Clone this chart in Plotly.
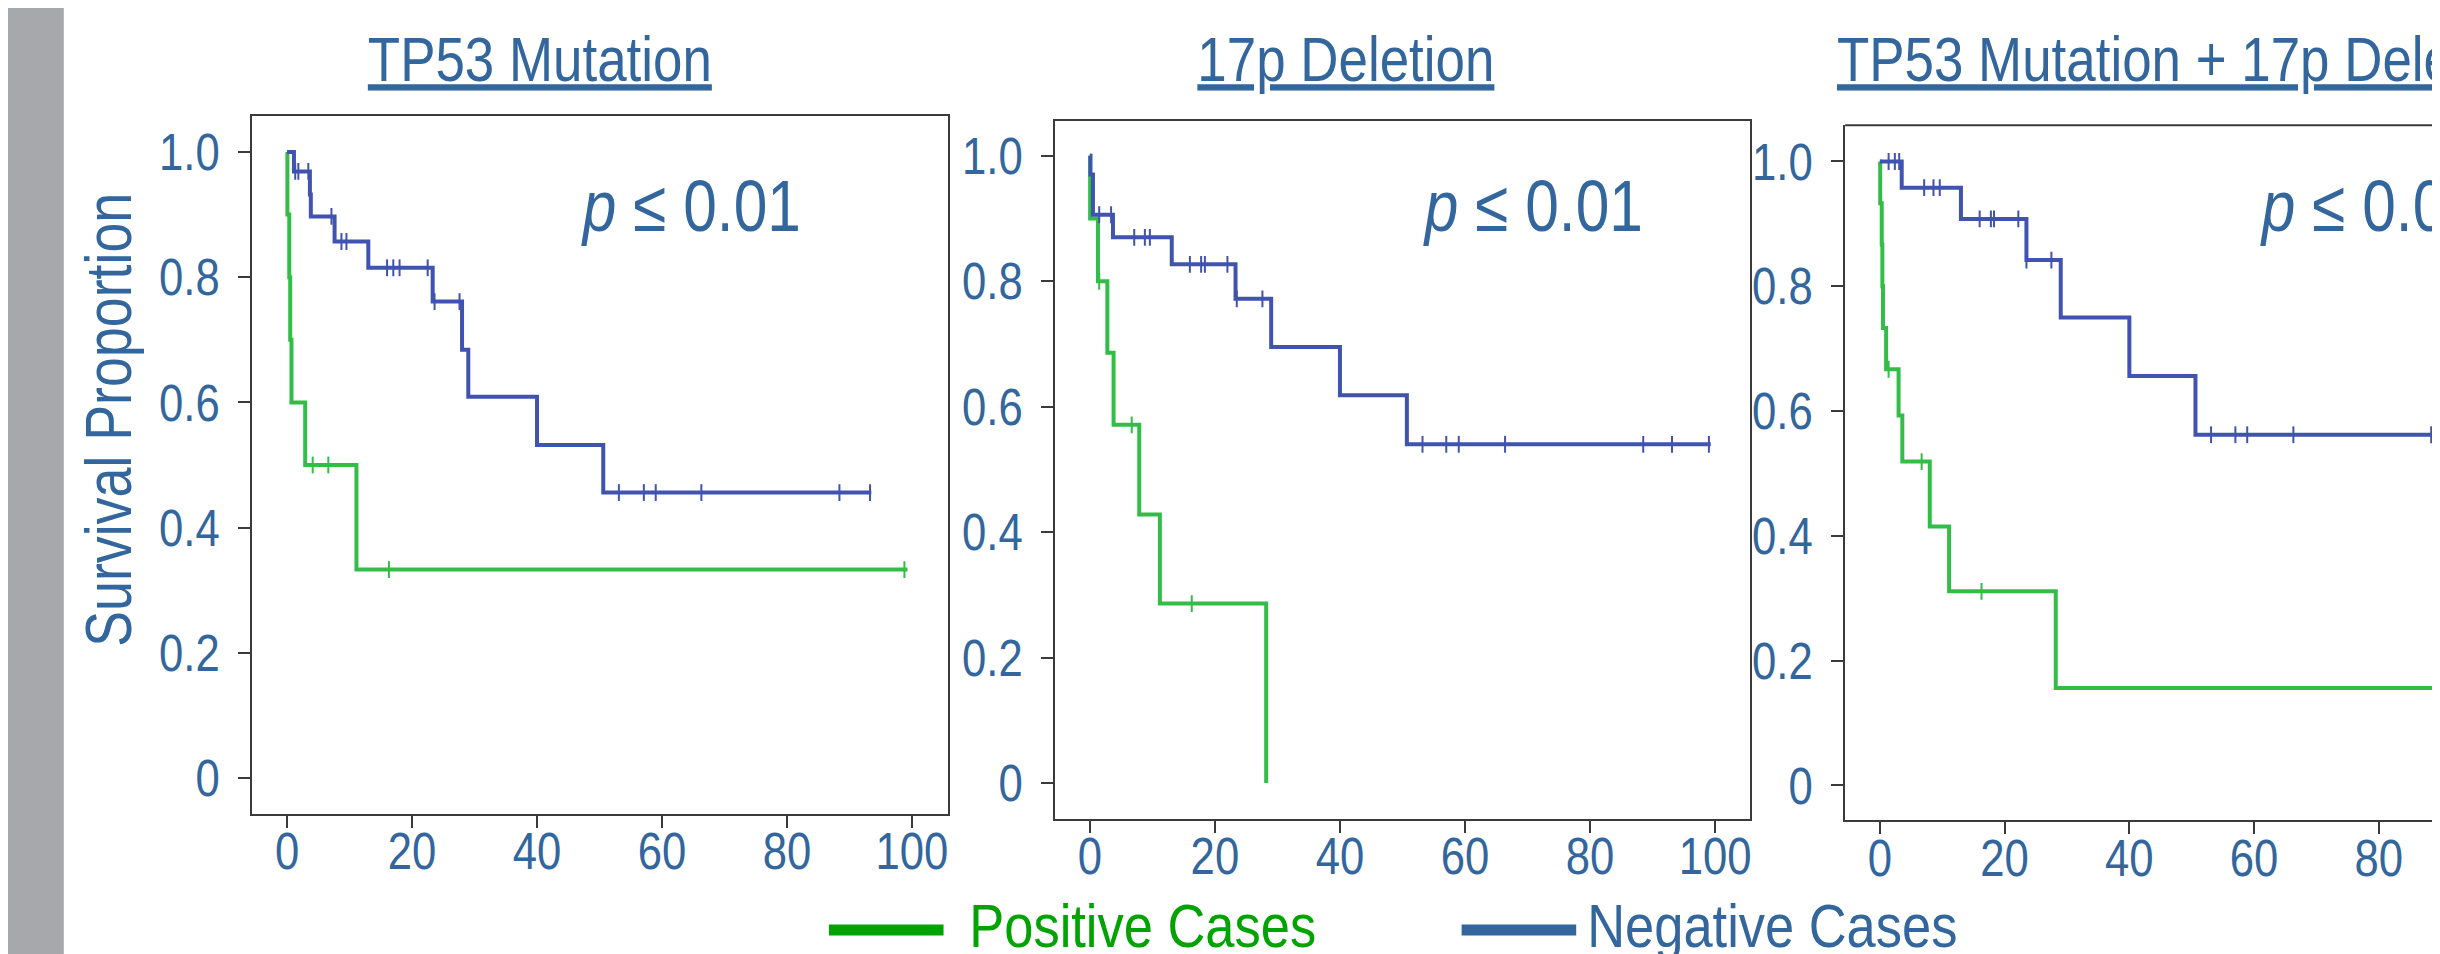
import plotly.graph_objects as go

# ---------------- data ----------------
panel_titles = ["TP53 Mutation", "17p Deletion", "TP53 Mutation + 17p Deletion"]
p_text = "<i>p</i> ≤ 0.01"
series_names = ["Positive Cases", "Negative Cases"]

# Panel 1 : TP53 Mutation
pos1_t = [0, 0.05, 0.35, 0.5, 0.7, 2.9, 11.1, 99.3]
pos1_s = [1.0, 0.9, 0.8, 0.7, 0.6, 0.5, 0.333, 0.333]
pos1_cens = [4.1, 6.6, 16.3, 98.8]
neg1_t = [0, 1.1, 3.65, 3.8, 7.6, 13.0, 23.3, 28.0, 29.0, 40.0, 50.6, 93.5]
neg1_s = [1.0, 0.969, 0.932, 0.897, 0.857, 0.815, 0.761, 0.684, 0.609, 0.532, 0.456, 0.456]
neg1_cens = [1.3, 1.8, 3.4, 7.1, 8.7, 9.5, 16.0, 17.0, 18.0, 22.5, 23.6, 27.6,
             53.1, 57.1, 59.0, 66.3, 88.4, 93.3]

# Panel 2 : 17p Deletion
pos2_t = [0, 0.05, 1.3, 2.8, 3.8, 7.9, 11.2, 28.2]
pos2_s = [1.0, 0.9, 0.8, 0.686, 0.571, 0.428, 0.286, 0.0]
pos2_cens = [1.5, 6.7, 16.3]
neg2_t = [0, 0.1, 0.5, 3.7, 13.1, 23.3, 29.0, 40.0, 50.7, 99.3]
neg2_s = [1.0, 0.97, 0.906, 0.870, 0.827, 0.772, 0.695, 0.618, 0.540, 0.540]
neg2_cens = [1.5, 3.4, 7.1, 8.8, 9.6, 16.0, 17.8, 18.4, 22.0, 23.5, 27.6,
             53.2, 57.0, 59.0, 66.4, 88.5, 93.1, 99.0]

# Panel 3 : TP53 Mutation + 17p Deletion
pos3_t = [0, 0.05, 0.3, 0.4, 0.5, 1.0, 3.0, 3.6, 8.0, 11.1, 28.2, 99.3]
pos3_s = [1.0, 0.933, 0.867, 0.800, 0.733, 0.667, 0.593, 0.519, 0.415, 0.311, 0.156, 0.156]
pos3_cens = [1.4, 6.7, 16.3, 98.8]
neg3_t = [0, 3.5, 13.0, 23.5, 29.0, 40.0, 50.6, 99.3]
neg3_s = [1.0, 0.958, 0.908, 0.842, 0.750, 0.656, 0.562, 0.562]
neg3_cens = [1.4, 2.4, 3.1, 7.1, 8.6, 9.6, 16.0, 17.8, 18.3, 22.2, 23.5, 27.5,
             53.1, 57.0, 58.9, 66.3, 88.4, 93.1, 99.0]

y_ticks = [0, 0.2, 0.4, 0.6, 0.8, 1.0]
y_ticklabels = ["0", "0.2", "0.4", "0.6", "0.8", "1.0"]
x_ticks = [0, 20, 40, 60, 80, 100]
x_ticklabels = ["0", "20", "40", "60", "80", "100"]

# ---------------- style ----------------
FONT = "Liberation Sans, Arial, sans-serif"
TEXT_BLUE = "#32669c"
CURVE_BLUE = "#4053b0"
CURVE_GREEN = "#33bd48"
LEGEND_GREEN = "#00a300"
FRAME = "#3a3a3a"

W, H = 2440, 954


def step_value(ts, ss, t):
    val = ss[0]
    for ti, si in zip(ts, ss):
        if ti <= t:
            val = si
    return val


panels = [
    (pos1_t, pos1_s, pos1_cens, neg1_t, neg1_s, neg1_cens),
    (pos2_t, pos2_s, pos2_cens, neg2_t, neg2_s, neg2_cens),
    (pos3_t, pos3_s, pos3_cens, neg3_t, neg3_s, neg3_cens),
]

# plot areas in pixels: (left, right, top, bottom)
boxes = [(245, 943, 108.3, 805.7), (1051, 1748, 113.3, 810.7), (1844, 2440, 117.3, 812.3)]
xranges = [[-5.6, 105.7], [-5.55, 105.5], [-5.56, 89.65]]
yranges = [[-0.057, 1.057], [-0.057, 1.055], [-0.056, 1.058]]

fig = go.Figure()

for i, (pt, ps, pc, nt, ns, nc) in enumerate(panels):
    xa = "x" if i == 0 else f"x{i+1}"
    ya = "y" if i == 0 else f"y{i+1}"
    for (tt, sv, cc, col) in [(pt, ps, pc, CURVE_GREEN), (nt, ns, nc, CURVE_BLUE)]:
        fig.add_trace(go.Scatter(x=tt, y=sv, mode="lines", line=dict(color=col, width=4, shape="hv"),
                                 xaxis=xa, yaxis=ya, showlegend=False, hoverinfo="skip"))
        fig.add_trace(go.Scatter(x=cc, y=[step_value(tt, sv, c) for c in cc], mode="markers",
                                 marker=dict(symbol="line-ns", size=12, line=dict(color=col, width=2)),
                                 xaxis=xa, yaxis=ya, showlegend=False, hoverinfo="skip"))

layout = dict(
    width=W, height=H, margin=dict(l=0, r=0, t=0, b=0),
    paper_bgcolor="white", plot_bgcolor="white", showlegend=False,
    font=dict(family=FONT, color=TEXT_BLUE),
)

for i, (l, r, t, b) in enumerate(boxes):
    sfx = "" if i == 0 else str(i + 1)
    mirror = True if i < 2 else False
    layout["xaxis" + sfx] = dict(
        domain=[l / W, r / W], range=xranges[i], anchor="y" + sfx,
        tickvals=x_ticks, ticktext=x_ticklabels, ticks="outside", ticklen=12, tickwidth=2,
        tickcolor=FRAME, showline=True, linecolor=FRAME, linewidth=2, mirror=mirror,
        showgrid=False, zeroline=False, tickfont=dict(size=52, color=TEXT_BLUE),
        ticklabelstandoff=-21,
    )
    layout["yaxis" + sfx] = dict(
        domain=[1 - b / H, 1 - t / H], range=yranges[i], anchor="x" + sfx,
        tickvals=y_ticks, ticktext=y_ticklabels, ticks="outside", ticklen=12, tickwidth=2,
        tickcolor=FRAME, showline=True, linecolor=FRAME, linewidth=2, mirror=mirror,
        showgrid=False, zeroline=False, tickfont=dict(size=52, color=TEXT_BLUE),
        ticklabelstandoff=8,
    )

shapes = [
    # grey side band
    dict(type="rect", xref="paper", yref="paper", x0=0, x1=56 / W, y0=0, y1=1,
         fillcolor="#a6a8ac", line=dict(width=0), layer="below"),
    # top frame line for the cut-off third panel
    dict(type="line", xref="x3 domain", yref="y3 domain", x0=0, x1=1, y0=1, y1=1,
         line=dict(color=FRAME, width=2)),
    # legend swatches
    dict(type="line", xref="paper", yref="paper", x0=824 / W, x1=939 / W,
         y0=1 - 922 / H, y1=1 - 922 / H, line=dict(color=LEGEND_GREEN, width=11)),
    dict(type="line", xref="paper", yref="paper", x0=1459 / W, x1=1574 / W,
         y0=1 - 922 / H, y1=1 - 922 / H, line=dict(color=TEXT_BLUE, width=11)),
]
layout["shapes"] = shapes

annotations = []
title_x = [534, 1343, 2188]
for i, xp in enumerate(title_x):
    annotations.append(dict(text=panel_titles[i], xref="paper", yref="paper", x=xp / W,
                            y=1 - 50.5 / H, xanchor="center", yanchor="middle", showarrow=False,
                            font=dict(size=63, color=TEXT_BLUE, family=FONT, lineposition="under")))
p_x = [686, 1530.5, 2371]
for xp in p_x:
    annotations.append(dict(text=p_text, xref="paper", yref="paper", x=xp / W, y=1 - 198 / H,
                            xanchor="center", yanchor="middle", showarrow=False,
                            font=dict(size=72, color=TEXT_BLUE, family=FONT)))
annotations.append(dict(text="Survival Proportion", xref="paper", yref="paper", x=101 / W,
                        y=1 - 411.5 / H, xanchor="center", yanchor="middle", textangle=-90,
                        showarrow=False, font=dict(size=64, color=TEXT_BLUE, family=FONT)))
annotations.append(dict(text=series_names[0], xref="paper", yref="paper", x=1138.5 / W, y=1 - 918 / H,
                        xanchor="center", yanchor="middle", showarrow=False,
                        font=dict(size=61, color=LEGEND_GREEN, family=FONT)))
annotations.append(dict(text=series_names[1], xref="paper", yref="paper", x=1771 / W, y=1 - 918 / H,
                        xanchor="center", yanchor="middle", showarrow=False,
                        font=dict(size=61, color=TEXT_BLUE, family=FONT)))
layout["annotations"] = annotations

fig.update_layout(**layout)

# The reference uses a narrow (Arial Narrow-like) face; no narrow face is installed,
# so every text is condensed horizontally about its own anchor point.
post_js = """
var gd = document.getElementById('{plot_id}');
gd.querySelectorAll('text').forEach(function(el){
  if (el.getAttribute('data-narrow')) return;
  var k = (el.style.fontSize === '61px') ? 0.86 : 0.84;
  var x = parseFloat(el.getAttribute('x')) || 0;
  var tr = el.getAttribute('transform') || '';
  el.setAttribute('transform', tr + ' translate(' + x + ',0) scale(' + k + ',1) translate(' + (-x) + ',0)');
  el.setAttribute('data-narrow', '1');
});
"""
fig.write_html("out.html", post_script=post_js)
